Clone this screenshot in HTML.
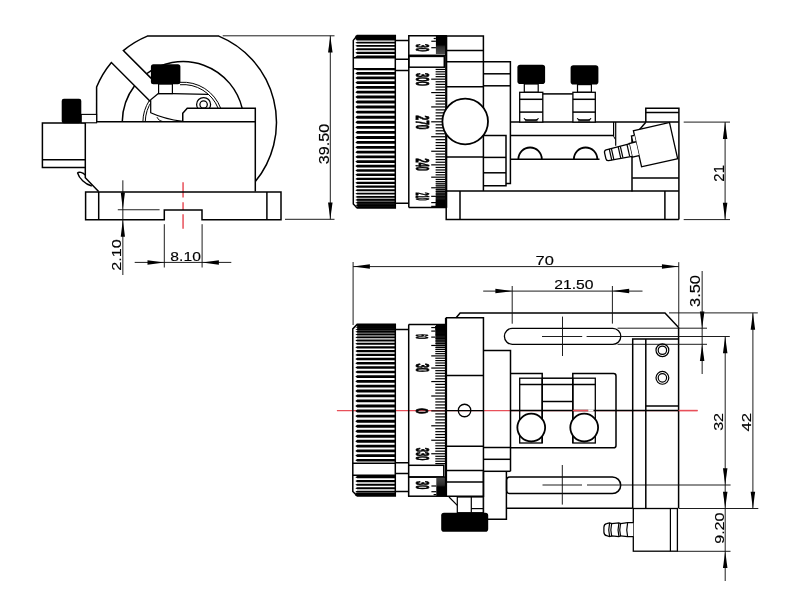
<!DOCTYPE html>
<html><head><meta charset="utf-8"><style>
html,body{margin:0;padding:0;background:#fff;}
svg{display:block;will-change:transform;}
text{font-family:"Liberation Sans",sans-serif;fill:#000;}
</style></head><body>
<svg width="800" height="605" viewBox="0 0 800 605">
<rect width="800" height="605" fill="#fff"/>
<path d="M96.6,122 L96.6,87.07 A93.4,93.4 0 0 1 111.4,62.5 L150.6,101.7" stroke="#000" stroke-width="1.5" fill="none" />
<path d="M151.2,78.4 L123.37,50.57 A93.4,93.4 0 0 1 147.34,36.1 L218.78,36.1 A93.4,93.4 0 0 1 255.3,181.6" stroke="#000" stroke-width="1.5" fill="none" />
<path d="M122.26,121.8 A60.8,60.8 0 0 1 134.59,85.69" stroke="#000" stroke-width="1.5" fill="none" />
<path d="M146.57,73.77 A60.8,60.8 0 0 1 242.2,108.3" stroke="#000" stroke-width="1.5" fill="none" />
<path d="M145.26,121.8 A37.8,37.8 0 0 1 152.25,100.5" stroke="#000" stroke-width="1.0" fill="none" />
<path d="M180,84.72 A37.8,37.8 0 0 1 218.13,108.3" stroke="#000" stroke-width="1.0" fill="none" />
<path d="M142.86,121.8 A40.2,40.2 0 0 1 149.35,100.5" stroke="#000" stroke-width="1.0" fill="none" />
<path d="M180,82.32 A40.2,40.2 0 0 1 220.71,108.3" stroke="#000" stroke-width="1.0" fill="none" />
<path d="M158.3,93.6 L150.7,99.8 L150.7,112.7 C160,117 171,119.8 182.75,121.3" stroke="#000" stroke-width="1.25" fill="#fff" />
<path d="M158.3,93.6 L172.4,93.6 L208,94.4" stroke="#000" stroke-width="1.25" fill="none" />
<path d="M157,117.2 C158,119.5 160,121 163,121.6" stroke="#000" stroke-width="1.0" fill="none" />
<circle cx="203.6" cy="104.5" r="7" stroke="#000" stroke-width="1.25" fill="#fff"/>
<circle cx="203.6" cy="104.5" r="3.7" stroke="#000" stroke-width="1.25" fill="none"/>
<path d="M182.75,121.5 L182.75,113.25 L187.25,108.3 L255.3,108.3 L255.3,191.5" stroke="#000" stroke-width="1.5" fill="#fff" />
<rect x="158.6" y="84" width="13.8" height="9.6" rx="0" stroke="#000" stroke-width="1.2" fill="#fff"/>
<rect x="150.9" y="64.2" width="29.5" height="20.1" rx="2.5" fill="#000"/>
<line x1="85.3" y1="121.8" x2="255.3" y2="121.8" stroke="#000" stroke-width="1.5" />
<path d="M85.3,121.8 L85.3,177.7 L98.6,191.4" stroke="#000" stroke-width="1.5" fill="none" />
<path d="M85.2,175.2 C83,172 78.5,171.6 77.6,173 C79,178 85,184.5 91.8,186" stroke="#000" stroke-width="1.4" fill="none" />
<path d="M85.3,123 L42.4,123 L42.4,167.4 L85.3,167.4" stroke="#000" stroke-width="1.5" fill="none" />
<line x1="42.4" y1="159.8" x2="85.3" y2="159.8" stroke="#000" stroke-width="1.5" />
<rect x="81.2" y="114.4" width="15.4" height="8.4" rx="0" stroke="#000" stroke-width="1.1" fill="#fff"/>
<rect x="61.7" y="98.7" width="19.6" height="24.5" rx="2.2" fill="#000"/>
<line x1="183.06" y1="182.2" x2="183.06" y2="197.4" stroke="#e8505a" stroke-width="1.5" />
<line x1="183.06" y1="202.3" x2="183.06" y2="209.9" stroke="#e8505a" stroke-width="1.5" />
<line x1="183.06" y1="214.3" x2="183.06" y2="228.8" stroke="#e8505a" stroke-width="1.5" />
<path d="M85.6,191.9 L281,191.9 L281,219.7 L202,219.7 L202,209.9 L164.3,209.9 L164.3,219.7 L85.6,219.7 Z" stroke="#000" stroke-width="1.5" fill="none" />
<line x1="98.7" y1="191.9" x2="98.7" y2="219.7" stroke="#000" stroke-width="1.5" />
<line x1="266.9" y1="191.9" x2="266.9" y2="219.7" stroke="#000" stroke-width="1.5" />
<line x1="222.7" y1="35.8" x2="334.5" y2="35.8" stroke="#111" stroke-width="0.95" />
<line x1="285" y1="219.3" x2="334.5" y2="219.3" stroke="#111" stroke-width="0.95" />
<line x1="330.3" y1="35.7" x2="330.3" y2="219.3" stroke="#111" stroke-width="0.95" />
<path d="M330.3,35.7 L332.55,52.5 L328.05,52.5 Z" fill="#000"/>
<path d="M330.3,219.3 L328.05,202.5 L332.55,202.5 Z" fill="#000"/>
<text x="0" y="0" font-size="14.18" text-anchor="middle" stroke="#000" stroke-width="0.15" textLength="40.48" lengthAdjust="spacingAndGlyphs" transform="translate(328.55 144) rotate(-90)">39.50</text>
<line x1="122.85" y1="180.3" x2="122.85" y2="275" stroke="#111" stroke-width="0.95" />
<line x1="117.8" y1="209.75" x2="159.6" y2="209.75" stroke="#111" stroke-width="0.95" />
<path d="M122.85,209.6 L120.75,192.6 L124.95,192.6 Z" fill="#000"/>
<path d="M122.85,219.8 L124.95,236.8 L120.75,236.8 Z" fill="#000"/>
<text x="0" y="0" font-size="13.27" text-anchor="middle" stroke="#000" stroke-width="0.15" textLength="31.54" lengthAdjust="spacingAndGlyphs" transform="translate(121.1 254.93) rotate(-90)">2.10</text>
<line x1="164.3" y1="224.2" x2="164.3" y2="267.5" stroke="#111" stroke-width="0.95" />
<line x1="202.1" y1="224.2" x2="202.1" y2="267.5" stroke="#111" stroke-width="0.95" />
<line x1="134.7" y1="262.4" x2="231.3" y2="262.4" stroke="#111" stroke-width="0.95" />
<path d="M164.3,262.4 L147.5,264.65 L147.5,260.15 Z" fill="#000"/>
<path d="M202.1,262.4 L218.9,260.15 L218.9,264.65 Z" fill="#000"/>
<text x="185.62" y="260.75" font-size="13.62" text-anchor="middle" stroke="#000" stroke-width="0.15" textLength="30.48" lengthAdjust="spacingAndGlyphs">8.10</text>
<path d="M357.2,36.12 L395.3,36.12 L395.3,37.67 L357.2,37.67 L355.3,36.89 Z M357.2,38.83 L395.3,38.83 L395.3,40.5 L357.2,40.5 L355.3,39.67 Z M357.2,41.76 L395.3,41.76 L395.3,43.56 L357.2,43.56 L355.3,42.66 Z M357.2,44.9 L395.3,44.9 L395.3,46.82 L357.2,46.82 L355.3,45.86 Z M357.2,48.25 L395.3,48.25 L395.3,50.28 L357.2,50.28 L355.3,49.27 Z M357.2,51.8 L395.3,51.8 L395.3,53.94 L357.2,53.94 L355.3,52.87 Z M357.2,55.53 L395.3,55.53 L395.3,57.77 L357.2,57.77 L355.3,56.65 Z" fill="#000"/>
<path d="M357.2,68.8 L395.3,68.8 L395.3,70.24 L357.2,70.24 L355.3,69.52 Z M357.2,72.09 L395.3,72.09 L395.3,74.68 L357.2,74.68 L355.3,73.38 Z M357.2,76.58 L395.3,76.58 L395.3,79.25 L357.2,79.25 L355.3,77.92 Z M357.2,81.2 L395.3,81.2 L395.3,83.92 L357.2,83.92 L355.3,82.56 Z M357.2,85.92 L395.3,85.92 L395.3,88.7 L357.2,88.7 L355.3,87.31 Z M357.2,90.73 L395.3,90.73 L395.3,93.56 L357.2,93.56 L355.3,92.14 Z M357.2,95.62 L395.3,95.62 L395.3,98.49 L357.2,98.49 L355.3,97.05 Z M357.2,100.58 L395.3,100.58 L395.3,103.48 L357.2,103.48 L355.3,102.03 Z M357.2,105.59 L395.3,105.59 L395.3,108.51 L357.2,108.51 L355.3,107.05 Z M357.2,110.64 L395.3,110.64 L395.3,113.58 L357.2,113.58 L355.3,112.11 Z M357.2,115.71 L395.3,115.71 L395.3,118.66 L357.2,118.66 L355.3,117.19 Z M357.2,120.8 L395.3,120.8 L395.3,123.75 L357.2,123.75 L355.3,122.27 Z M357.2,125.88 L395.3,125.88 L395.3,128.82 L357.2,128.82 L355.3,127.35 Z M357.2,130.94 L395.3,130.94 L395.3,133.87 L357.2,133.87 L355.3,132.41 Z M357.2,135.98 L395.3,135.98 L395.3,138.88 L357.2,138.88 L355.3,137.43 Z M357.2,140.97 L395.3,140.97 L395.3,143.84 L357.2,143.84 L355.3,142.41 Z M357.2,145.91 L395.3,145.91 L395.3,148.74 L357.2,148.74 L355.3,147.32 Z M357.2,150.77 L395.3,150.77 L395.3,153.55 L357.2,153.55 L355.3,152.16 Z M357.2,155.55 L395.3,155.55 L395.3,158.28 L357.2,158.28 L355.3,156.91 Z M357.2,160.23 L395.3,160.23 L395.3,162.89 L357.2,162.89 L355.3,161.56 Z M357.2,164.8 L395.3,164.8 L395.3,167.39 L357.2,167.39 L355.3,166.1 Z M357.2,169.25 L395.3,169.25 L395.3,171.77 L357.2,171.77 L355.3,170.51 Z M357.2,173.56 L395.3,173.56 L395.3,175.99 L357.2,175.99 L355.3,174.78 Z M357.2,177.73 L395.3,177.73 L395.3,180.07 L357.2,180.07 L355.3,178.9 Z M357.2,181.73 L395.3,181.73 L395.3,183.98 L357.2,183.98 L355.3,182.86 Z M357.2,185.57 L395.3,185.57 L395.3,187.72 L357.2,187.72 L355.3,186.65 Z M357.2,189.23 L395.3,189.23 L395.3,191.27 L357.2,191.27 L355.3,190.25 Z M357.2,192.7 L395.3,192.7 L395.3,194.62 L357.2,194.62 L355.3,193.66 Z M357.2,195.97 L395.3,195.97 L395.3,197.78 L357.2,197.78 L355.3,196.88 Z M357.2,199.04 L395.3,199.04 L395.3,200.72 L357.2,200.72 L355.3,199.88 Z M357.2,201.88 L395.3,201.88 L395.3,203.43 L357.2,203.43 L355.3,202.66 Z M357.2,204.51 L395.3,204.51 L395.3,205.92 L357.2,205.92 L355.3,205.22 Z M357.2,206.9 L395.3,206.9 L395.3,208 L357.2,208 L355.3,207.45 Z" fill="#000"/>
<rect x="355.5" y="35.6" width="39.8" height="3.4" rx="0" fill="#000"/>
<defs><linearGradient id="g5" x1="0" y1="1" x2="0" y2="0"><stop offset="0" stop-color="#000" stop-opacity="1"/><stop offset="0.3" stop-color="#000" stop-opacity="0.9"/><stop offset="1" stop-color="#000" stop-opacity="0"/></linearGradient></defs>
<rect x="357.2" y="195" width="38.1" height="13" fill="url(#g5)"/>
<path d="M357.2,35.6 L395.3,35.6 L395.3,208.0 L357.2,208.0 L353.3,203.9 L353.3,40.4 Z" stroke="#000" stroke-width="1.5" fill="none" />
<line x1="353.3" y1="57.8" x2="395.3" y2="57.8" stroke="#000" stroke-width="1.5" />
<line x1="353.3" y1="68.8" x2="395.3" y2="68.8" stroke="#000" stroke-width="1.5" />
<path d="M395.3,40.5 L408.8,40.5 M395.3,59.2 L408.8,59.2 M395.3,70.5 L408.8,70.5 M395.3,203.2 L408.8,203.2" stroke="#000" stroke-width="1.5" fill="none" />
<rect x="408.8" y="35.75" width="37.4" height="19.55" rx="0" stroke="#000" stroke-width="1.5" fill="#fff"/>
<defs><linearGradient id="g1" x1="0" y1="0" x2="0" y2="1"><stop offset="0" stop-color="#000"/><stop offset="0.5" stop-color="#000"/><stop offset="0.6" stop-color="#2a2a2a"/><stop offset="1" stop-color="#4a4a4a"/></linearGradient><linearGradient id="g2" x1="0" y1="0" x2="0" y2="1"><stop offset="0" stop-color="#4a4a4a"/><stop offset="0.4" stop-color="#2a2a2a"/><stop offset="0.5" stop-color="#000"/><stop offset="1" stop-color="#000"/></linearGradient></defs>
<rect x="435.9" y="35.75" width="10.3" height="18.3" fill="url(#g1)"/>
<line x1="433.7" y1="38.5" x2="435.9" y2="38.5" stroke="#000" stroke-width="1.2" />
<line x1="431.3" y1="41.25" x2="435.9" y2="41.25" stroke="#000" stroke-width="1.2" />
<line x1="431.3" y1="47.7" x2="435.9" y2="47.7" stroke="#000" stroke-width="1.2" />
<rect x="408.8" y="56.4" width="35.5" height="10.8" rx="0" stroke="#000" stroke-width="1.5" fill="#fff"/>
<line x1="408.8" y1="55.3" x2="408.8" y2="207.5" stroke="#000" stroke-width="1.5" />
<line x1="408.8" y1="207.5" x2="446.2" y2="207.5" stroke="#000" stroke-width="1.5" />
<line x1="446.2" y1="35.75" x2="446.2" y2="207.8" stroke="#000" stroke-width="2.2" />
<line x1="435.6" y1="69.44" x2="445.3" y2="69.44" stroke="#000" stroke-width="1.2" />
<line x1="435.6" y1="71.78" x2="445.3" y2="71.78" stroke="#000" stroke-width="1.2" />
<line x1="435.6" y1="74.18" x2="445.3" y2="74.18" stroke="#000" stroke-width="1.2" />
<line x1="435.6" y1="76.65" x2="445.3" y2="76.65" stroke="#000" stroke-width="1.2" />
<line x1="431.2" y1="79.17" x2="445.3" y2="79.17" stroke="#000" stroke-width="1.2" />
<line x1="435.6" y1="81.76" x2="445.3" y2="81.76" stroke="#000" stroke-width="1.2" />
<line x1="435.6" y1="84.39" x2="445.3" y2="84.39" stroke="#000" stroke-width="1.2" />
<line x1="435.6" y1="87.07" x2="445.3" y2="87.07" stroke="#000" stroke-width="1.2" />
<line x1="435.6" y1="89.8" x2="445.3" y2="89.8" stroke="#000" stroke-width="1.2" />
<line x1="431.2" y1="92.57" x2="445.3" y2="92.57" stroke="#000" stroke-width="1.2" />
<line x1="435.6" y1="95.38" x2="445.3" y2="95.38" stroke="#000" stroke-width="1.2" />
<line x1="435.6" y1="98.22" x2="445.3" y2="98.22" stroke="#000" stroke-width="1.2" />
<line x1="435.6" y1="101.1" x2="445.3" y2="101.1" stroke="#000" stroke-width="1.2" />
<line x1="435.6" y1="104.01" x2="445.3" y2="104.01" stroke="#000" stroke-width="1.2" />
<line x1="431.2" y1="106.93" x2="445.3" y2="106.93" stroke="#000" stroke-width="1.2" />
<line x1="435.6" y1="109.88" x2="445.3" y2="109.88" stroke="#000" stroke-width="1.2" />
<line x1="435.6" y1="112.85" x2="445.3" y2="112.85" stroke="#000" stroke-width="1.2" />
<line x1="435.6" y1="115.83" x2="445.3" y2="115.83" stroke="#000" stroke-width="1.2" />
<line x1="435.6" y1="118.82" x2="445.3" y2="118.82" stroke="#000" stroke-width="1.2" />
<line x1="431.2" y1="121.81" x2="445.3" y2="121.81" stroke="#000" stroke-width="1.2" />
<line x1="435.6" y1="124.81" x2="445.3" y2="124.81" stroke="#000" stroke-width="1.2" />
<line x1="435.6" y1="127.81" x2="445.3" y2="127.81" stroke="#000" stroke-width="1.2" />
<line x1="435.6" y1="130.79" x2="445.3" y2="130.79" stroke="#000" stroke-width="1.2" />
<line x1="435.6" y1="133.77" x2="445.3" y2="133.77" stroke="#000" stroke-width="1.2" />
<line x1="431.2" y1="136.74" x2="445.3" y2="136.74" stroke="#000" stroke-width="1.2" />
<line x1="435.6" y1="139.69" x2="445.3" y2="139.69" stroke="#000" stroke-width="1.2" />
<line x1="435.6" y1="142.62" x2="445.3" y2="142.62" stroke="#000" stroke-width="1.2" />
<line x1="435.6" y1="145.52" x2="445.3" y2="145.52" stroke="#000" stroke-width="1.2" />
<line x1="435.6" y1="148.4" x2="445.3" y2="148.4" stroke="#000" stroke-width="1.2" />
<line x1="431.2" y1="151.24" x2="445.3" y2="151.24" stroke="#000" stroke-width="1.2" />
<line x1="435.6" y1="154.05" x2="445.3" y2="154.05" stroke="#000" stroke-width="1.2" />
<line x1="435.6" y1="156.82" x2="445.3" y2="156.82" stroke="#000" stroke-width="1.2" />
<line x1="435.6" y1="159.55" x2="445.3" y2="159.55" stroke="#000" stroke-width="1.2" />
<line x1="435.6" y1="162.23" x2="445.3" y2="162.23" stroke="#000" stroke-width="1.2" />
<line x1="431.2" y1="164.86" x2="445.3" y2="164.86" stroke="#000" stroke-width="1.2" />
<line x1="435.6" y1="167.44" x2="445.3" y2="167.44" stroke="#000" stroke-width="1.2" />
<line x1="435.6" y1="169.96" x2="445.3" y2="169.96" stroke="#000" stroke-width="1.2" />
<line x1="435.6" y1="172.43" x2="445.3" y2="172.43" stroke="#000" stroke-width="1.2" />
<line x1="435.6" y1="174.83" x2="445.3" y2="174.83" stroke="#000" stroke-width="1.2" />
<line x1="431.2" y1="177.17" x2="445.3" y2="177.17" stroke="#000" stroke-width="1.2" />
<line x1="435.6" y1="179.43" x2="445.3" y2="179.43" stroke="#000" stroke-width="1.2" />
<line x1="435.6" y1="181.63" x2="445.3" y2="181.63" stroke="#000" stroke-width="1.2" />
<line x1="435.6" y1="183.76" x2="445.3" y2="183.76" stroke="#000" stroke-width="1.2" />
<line x1="435.6" y1="185.8" x2="445.3" y2="185.8" stroke="#000" stroke-width="1.2" />
<line x1="431.2" y1="187.77" x2="445.3" y2="187.77" stroke="#000" stroke-width="1.2" />
<line x1="435.6" y1="189.66" x2="445.3" y2="189.66" stroke="#000" stroke-width="1.2" />
<line x1="435.6" y1="191.46" x2="445.3" y2="191.46" stroke="#000" stroke-width="1.2" />
<line x1="435.6" y1="193.18" x2="445.3" y2="193.18" stroke="#000" stroke-width="1.2" />
<line x1="435.6" y1="194.81" x2="445.3" y2="194.81" stroke="#000" stroke-width="1.2" />
<line x1="431.2" y1="196.34" x2="445.3" y2="196.34" stroke="#000" stroke-width="1.2" />
<line x1="435.6" y1="197.79" x2="445.3" y2="197.79" stroke="#000" stroke-width="1.2" />
<line x1="435.6" y1="199.14" x2="445.3" y2="199.14" stroke="#000" stroke-width="1.2" />
<line x1="435.6" y1="200.39" x2="445.3" y2="200.39" stroke="#000" stroke-width="1.2" />
<line x1="435.6" y1="201.55" x2="445.3" y2="201.55" stroke="#000" stroke-width="1.2" />
<line x1="431.2" y1="202.61" x2="445.3" y2="202.61" stroke="#000" stroke-width="1.2" />
<line x1="435.6" y1="203.57" x2="445.3" y2="203.57" stroke="#000" stroke-width="1.2" />
<line x1="435.6" y1="204.42" x2="445.3" y2="204.42" stroke="#000" stroke-width="1.2" />
<line x1="435.6" y1="205.18" x2="445.3" y2="205.18" stroke="#000" stroke-width="1.2" />
<line x1="435.6" y1="205.83" x2="445.3" y2="205.83" stroke="#000" stroke-width="1.2" />
<line x1="431.2" y1="206.37" x2="445.3" y2="206.37" stroke="#000" stroke-width="1.2" />
<line x1="435.6" y1="206.81" x2="445.3" y2="206.81" stroke="#000" stroke-width="1.2" />
<defs><linearGradient id="g6" x1="0" y1="0" x2="0" y2="1"><stop offset="0" stop-color="#000" stop-opacity="0"/><stop offset="0.6" stop-color="#000" stop-opacity="0.6"/><stop offset="1" stop-color="#000" stop-opacity="1"/></linearGradient></defs>
<rect x="436" y="178" width="9.5" height="29.5" fill="url(#g6)"/>
<text x="0" y="0" font-size="18.44" font-weight="bold" stroke="#000" stroke-width="0.9" text-anchor="middle" textLength="12.8" lengthAdjust="spacingAndGlyphs" transform="translate(416.2 79.4) rotate(90)">300</text>
<text x="0" y="0" font-size="18.44" font-weight="bold" stroke="#000" stroke-width="0.9" text-anchor="middle" textLength="14" lengthAdjust="spacingAndGlyphs" transform="translate(416.2 122.5) rotate(90)">270</text>
<text x="0" y="0" font-size="18.44" font-weight="bold" stroke="#000" stroke-width="0.9" text-anchor="middle" textLength="12.4" lengthAdjust="spacingAndGlyphs" transform="translate(416.2 164.8) rotate(90)">240</text>
<text x="0" y="0" font-size="18.44" font-weight="bold" stroke="#000" stroke-width="0.9" text-anchor="middle" textLength="8" lengthAdjust="spacingAndGlyphs" transform="translate(416.2 196.5) rotate(90)">210</text>
<text x="0" y="0" font-size="17.88" font-weight="bold" stroke="#000" stroke-width="0.9" text-anchor="middle" textLength="7.6" lengthAdjust="spacingAndGlyphs" transform="translate(416 47.8) rotate(90)">30</text>
<path d="M446.2,36 L483.4,36 L483.4,191" stroke="#000" stroke-width="1.5" fill="none" />
<line x1="446.2" y1="50.6" x2="483.4" y2="50.6" stroke="#000" stroke-width="1.5" />
<line x1="446.2" y1="61.8" x2="483.4" y2="61.8" stroke="#000" stroke-width="1.5" />
<line x1="446.2" y1="86.8" x2="483.4" y2="86.8" stroke="#000" stroke-width="1.5" />
<line x1="446.2" y1="156.9" x2="483.4" y2="156.9" stroke="#000" stroke-width="1.5" />
<circle cx="465.2" cy="121.5" r="22.8" stroke="#000" stroke-width="1.8" fill="#fff"/>
<path d="M483.4,61.8 L510.4,61.8 L510.4,183.4 L506,183.4" stroke="#000" stroke-width="1.5" fill="none" />
<line x1="483.4" y1="73.8" x2="510.4" y2="73.8" stroke="#000" stroke-width="1.5" />
<line x1="483.4" y1="85.8" x2="510.4" y2="85.8" stroke="#000" stroke-width="1.5" />
<path d="M483.4,135.6 L506,135.6 L506,185.8 L483.4,185.8" stroke="#000" stroke-width="1.5" fill="none" />
<line x1="483.4" y1="157.4" x2="506" y2="157.4" stroke="#000" stroke-width="1.5" />
<line x1="483.4" y1="172.8" x2="506" y2="172.8" stroke="#000" stroke-width="1.5" />
<line x1="510.4" y1="122.1" x2="678.8" y2="122.1" stroke="#000" stroke-width="1.5" />
<line x1="510.4" y1="135.4" x2="613.6" y2="135.4" stroke="#000" stroke-width="1.5" />
<line x1="613.6" y1="122" x2="613.6" y2="136.2" stroke="#000" stroke-width="1.2" />
<line x1="613.6" y1="136.2" x2="615.4" y2="139.5" stroke="#000" stroke-width="1.0" />
<line x1="615.7" y1="122" x2="615.7" y2="145.8" stroke="#000" stroke-width="1.2" />
<line x1="510.4" y1="159.2" x2="599.5" y2="159.2" stroke="#000" stroke-width="1.5" />
<path d="M518.4,159.2 A11.7,11.7 0 0 1 541.8,159.2" stroke="#000" stroke-width="1.8" fill="none" />
<path d="M573.9,159.2 A11.7,11.7 0 0 1 597.3,159.2" stroke="#000" stroke-width="1.8" fill="none" />
<path d="M542.8,93.9 L572.9,93.9" stroke="#000" stroke-width="1.5" fill="none" />
<rect x="517.4" y="64.7" width="27.7" height="19.3" rx="2.8" fill="#000"/>
<rect x="524.3" y="84" width="13.9" height="8.3" rx="0" stroke="#000" stroke-width="1.2" fill="#fff"/>
<rect x="519.7" y="92.3" width="23.1" height="29.8" rx="0" stroke="#000" stroke-width="1.3" fill="#fff"/>
<line x1="519.7" y1="99.3" x2="542.8" y2="99.3" stroke="#000" stroke-width="1.5" />
<line x1="519.7" y1="112.1" x2="542.8" y2="112.1" stroke="#000" stroke-width="1.5" />
<path d="M524,118.2 Q524.9,120.0 527.2,119.9 L535.3,119.9 Q537.6,120.0 538.5,118.2" stroke="#000" stroke-width="1.1" fill="none" />
<path d="M525.2,120.2 L537.3,120.2 L537.8,121.6 L524.7,121.6 Z" stroke="#000" stroke-width="0" fill="#000" />
<rect x="570.6" y="65.3" width="27.8" height="19.3" rx="2.8" fill="#000"/>
<rect x="577.5" y="84.6" width="13.9" height="7.7" rx="0" stroke="#000" stroke-width="1.2" fill="#fff"/>
<rect x="572.9" y="92.3" width="22.4" height="29.8" rx="0" stroke="#000" stroke-width="1.3" fill="#fff"/>
<line x1="572.9" y1="99.3" x2="595.3" y2="99.3" stroke="#000" stroke-width="1.5" />
<line x1="572.9" y1="112.1" x2="595.3" y2="112.1" stroke="#000" stroke-width="1.5" />
<path d="M577.2,118.2 Q578.1,120.0 580.4,119.9 L587.8,119.9 Q590.1,120.0 591,118.2" stroke="#000" stroke-width="1.1" fill="none" />
<path d="M578.4,120.2 L589.8,120.2 L590.3,121.6 L577.9,121.6 Z" stroke="#000" stroke-width="0" fill="#000" />
<path d="M645.8,122 L645.8,108.3 L678.9,108.3 L678.9,219.6" stroke="#000" stroke-width="1.5" fill="none" />
<line x1="645.8" y1="112.4" x2="678.9" y2="112.4" stroke="#000" stroke-width="1.5" />
<path d="M645.8,122.3 L639.6,129.5" stroke="#000" stroke-width="1.5" fill="none" />
<line x1="632" y1="136" x2="632" y2="191.4" stroke="#000" stroke-width="1.5" />
<line x1="632.2" y1="178" x2="678.9" y2="178" stroke="#000" stroke-width="1.5" />
<g transform="translate(633.4 130.75) rotate(-12.75)">
<path d="M0,0 L37,0 L37,37 L0,37 Z" stroke="#000" stroke-width="1.3" fill="#fff" />
<path d="M0,4.7 L-3.1,4.7 L-3.1,11.5 L0,11.5" stroke="#000" stroke-width="1.3" fill="#fff" />
<path d="M0,11.5 L-7,11.5 L-7,25.5 L0,25.5" stroke="#000" stroke-width="1.3" fill="#fff" />
<path d="M-7,11.9 L-30.8,12.6 Q-33,12.8 -33,15.2 L-33,21.2 Q-33,23.6 -30.8,23.7 L-7,24.6" stroke="#000" stroke-width="1.3" fill="#fff" />
<line x1="-27.6" y1="12.4" x2="-27.6" y2="24" stroke="#000" stroke-width="1.2" />
<line x1="-25.4" y1="12.4" x2="-25.4" y2="24" stroke="#000" stroke-width="1.2" />
<line x1="-18.4" y1="12.4" x2="-18.4" y2="24" stroke="#000" stroke-width="1.2" />
<line x1="-16.2" y1="12.4" x2="-16.2" y2="24" stroke="#000" stroke-width="1.2" />
<line x1="-9.3" y1="12.4" x2="-9.3" y2="24" stroke="#000" stroke-width="1.2" />
</g>
<path d="M446.2,191 L678.9,191 M446.2,191 L446.2,219.5 L678.9,219.5" stroke="#000" stroke-width="1.5" fill="none" />
<line x1="460" y1="191" x2="460" y2="219.5" stroke="#000" stroke-width="1.5" />
<line x1="664.9" y1="191" x2="664.9" y2="219.5" stroke="#000" stroke-width="1.5" />
<line x1="683.7" y1="122.1" x2="730" y2="122.1" stroke="#111" stroke-width="0.95" />
<line x1="683.7" y1="219.6" x2="730" y2="219.6" stroke="#111" stroke-width="0.95" />
<line x1="725.1" y1="122.1" x2="725.1" y2="219.6" stroke="#111" stroke-width="0.95" />
<path d="M725.1,122.1 L727.35,138.9 L722.85,138.9 Z" fill="#000"/>
<path d="M725.1,219.6 L722.85,202.8 L727.35,202.8 Z" fill="#000"/>
<text x="0" y="0" font-size="14.11" text-anchor="middle" stroke="#000" stroke-width="0.15" textLength="16.57" lengthAdjust="spacingAndGlyphs" transform="translate(723.8 173.35) rotate(-90)">21</text>
<line x1="336.9" y1="410.6" x2="697.6" y2="410.6" stroke="#e8505a" stroke-width="1.4" />
<path d="M357.2,324.69 L395.3,324.69 L395.3,325.76 L357.2,325.76 L355.3,325.22 Z M357.2,326.58 L395.3,326.58 L395.3,327.79 L357.2,327.79 L355.3,327.19 Z M357.2,328.72 L395.3,328.72 L395.3,330.07 L357.2,330.07 L355.3,329.4 Z M357.2,331.1 L395.3,331.1 L395.3,332.58 L357.2,332.58 L355.3,331.84 Z M357.2,333.7 L395.3,333.7 L395.3,335.32 L357.2,335.32 L355.3,334.51 Z M357.2,336.54 L395.3,336.54 L395.3,338.28 L357.2,338.28 L355.3,337.41 Z M357.2,339.58 L395.3,339.58 L395.3,341.45 L357.2,341.45 L355.3,340.52 Z M357.2,342.84 L395.3,342.84 L395.3,344.82 L357.2,344.82 L355.3,343.83 Z M357.2,346.3 L395.3,346.3 L395.3,348.39 L357.2,348.39 L355.3,347.34 Z M357.2,349.94 L395.3,349.94 L395.3,352.14 L357.2,352.14 L355.3,351.04 Z M357.2,353.77 L395.3,353.77 L395.3,356.07 L357.2,356.07 L355.3,354.92 Z M357.2,357.77 L395.3,357.77 L395.3,360.16 L357.2,360.16 L355.3,358.96 Z M357.2,361.92 L395.3,361.92 L395.3,364.4 L357.2,364.4 L355.3,363.16 Z M357.2,366.23 L395.3,366.23 L395.3,368.78 L357.2,368.78 L355.3,367.5 Z M357.2,370.66 L395.3,370.66 L395.3,373.3 L357.2,373.3 L355.3,371.98 Z M357.2,375.23 L395.3,375.23 L395.3,377.92 L357.2,377.92 L355.3,376.58 Z M357.2,379.9 L395.3,379.9 L395.3,382.66 L357.2,382.66 L355.3,381.28 Z M357.2,384.67 L395.3,384.67 L395.3,387.48 L357.2,387.48 L355.3,386.08 Z M357.2,389.53 L395.3,389.53 L395.3,392.38 L357.2,392.38 L355.3,390.95 Z M357.2,394.46 L395.3,394.46 L395.3,397.35 L357.2,397.35 L355.3,395.9 Z M357.2,399.45 L395.3,399.45 L395.3,402.36 L357.2,402.36 L355.3,400.9 Z M357.2,404.48 L395.3,404.48 L395.3,407.41 L357.2,407.41 L355.3,405.95 Z M357.2,409.54 L395.3,409.54 L395.3,412.49 L357.2,412.49 L355.3,411.02 Z M357.2,414.63 L395.3,414.63 L395.3,417.58 L357.2,417.58 L355.3,416.1 Z M357.2,419.71 L395.3,419.71 L395.3,422.66 L357.2,422.66 L355.3,421.18 Z M357.2,424.79 L395.3,424.79 L395.3,427.72 L357.2,427.72 L355.3,426.25 Z M357.2,429.84 L395.3,429.84 L395.3,432.75 L357.2,432.75 L355.3,431.29 Z M357.2,434.85 L395.3,434.85 L395.3,437.74 L357.2,437.74 L355.3,436.29 Z M357.2,439.81 L395.3,439.81 L395.3,442.66 L357.2,442.66 L355.3,441.24 Z M357.2,444.71 L395.3,444.71 L395.3,447.51 L357.2,447.51 L355.3,446.11 Z M357.2,449.53 L395.3,449.53 L395.3,452.28 L357.2,452.28 L355.3,450.9 Z M357.2,454.25 L395.3,454.25 L395.3,456.95 L357.2,456.95 L355.3,455.6 Z M357.2,458.88 L395.3,458.88 L395.3,461.5 L357.2,461.5 L355.3,460.19 Z" fill="#000"/>
<path d="M357.2,476.07 L395.3,476.07 L395.3,478.36 L357.2,478.36 L355.3,477.22 Z M357.2,479.99 L395.3,479.99 L395.3,482.18 L357.2,482.18 L355.3,481.08 Z M357.2,483.73 L395.3,483.73 L395.3,485.81 L357.2,485.81 L355.3,484.77 Z M357.2,487.28 L395.3,487.28 L395.3,489.26 L357.2,489.26 L355.3,488.27 Z M357.2,490.65 L395.3,490.65 L395.3,492.5 L357.2,492.5 L355.3,491.57 Z M357.2,493.8 L395.3,493.8 L395.3,495.54 L357.2,495.54 L355.3,494.67 Z" fill="#000"/>
<defs><linearGradient id="g4" x1="0" y1="0" x2="0" y2="1"><stop offset="0" stop-color="#000" stop-opacity="1"/><stop offset="0.3" stop-color="#000" stop-opacity="0.95"/><stop offset="1" stop-color="#000" stop-opacity="0"/></linearGradient></defs>
<rect x="357.2" y="324.3" width="38.1" height="15" fill="url(#g4)"/>
<rect x="355.5" y="492.6" width="39.8" height="3.4" rx="0" fill="#000"/>
<path d="M357.2,324.3 L395.3,324.3 L395.3,496.0 L357.2,496.0 L352.8,491.4 L352.8,328.9 Z" stroke="#000" stroke-width="1.5" fill="none" />
<line x1="352.8" y1="463.3" x2="395.3" y2="463.3" stroke="#000" stroke-width="1.5" />
<line x1="352.8" y1="475.2" x2="395.3" y2="475.2" stroke="#000" stroke-width="1.5" />
<path d="M395.3,329.5 L408.7,329.5 M395.3,462.8 L408.7,462.8 M395.3,473.4 L408.7,473.4 M395.3,491.4 L408.7,491.4" stroke="#000" stroke-width="1.5" fill="none" />
<line x1="408.7" y1="324.4" x2="408.7" y2="496.2" stroke="#000" stroke-width="1.5" />
<line x1="408.7" y1="324.4" x2="446" y2="324.4" stroke="#000" stroke-width="1.5" />
<line x1="435.3" y1="326.65" x2="445" y2="326.65" stroke="#000" stroke-width="1.2" />
<line x1="435.3" y1="326.72" x2="445" y2="326.72" stroke="#000" stroke-width="1.2" />
<line x1="435.3" y1="326.9" x2="445" y2="326.9" stroke="#000" stroke-width="1.2" />
<line x1="435.3" y1="327.18" x2="445" y2="327.18" stroke="#000" stroke-width="1.2" />
<line x1="431.25" y1="327.57" x2="445" y2="327.57" stroke="#000" stroke-width="1.2" />
<line x1="435.3" y1="328.07" x2="445" y2="328.07" stroke="#000" stroke-width="1.2" />
<line x1="435.3" y1="328.66" x2="445" y2="328.66" stroke="#000" stroke-width="1.2" />
<line x1="435.3" y1="329.37" x2="445" y2="329.37" stroke="#000" stroke-width="1.2" />
<line x1="435.3" y1="330.17" x2="445" y2="330.17" stroke="#000" stroke-width="1.2" />
<line x1="431.25" y1="331.08" x2="445" y2="331.08" stroke="#000" stroke-width="1.2" />
<line x1="435.3" y1="332.09" x2="445" y2="332.09" stroke="#000" stroke-width="1.2" />
<line x1="435.3" y1="333.2" x2="445" y2="333.2" stroke="#000" stroke-width="1.2" />
<line x1="435.3" y1="334.41" x2="445" y2="334.41" stroke="#000" stroke-width="1.2" />
<line x1="435.3" y1="335.71" x2="445" y2="335.71" stroke="#000" stroke-width="1.2" />
<line x1="431.25" y1="337.11" x2="445" y2="337.11" stroke="#000" stroke-width="1.2" />
<line x1="435.3" y1="338.61" x2="445" y2="338.61" stroke="#000" stroke-width="1.2" />
<line x1="435.3" y1="340.19" x2="445" y2="340.19" stroke="#000" stroke-width="1.2" />
<line x1="435.3" y1="341.86" x2="445" y2="341.86" stroke="#000" stroke-width="1.2" />
<line x1="435.3" y1="343.63" x2="445" y2="343.63" stroke="#000" stroke-width="1.2" />
<line x1="431.25" y1="345.47" x2="445" y2="345.47" stroke="#000" stroke-width="1.2" />
<line x1="435.3" y1="347.4" x2="445" y2="347.4" stroke="#000" stroke-width="1.2" />
<line x1="435.3" y1="349.41" x2="445" y2="349.41" stroke="#000" stroke-width="1.2" />
<line x1="435.3" y1="351.5" x2="445" y2="351.5" stroke="#000" stroke-width="1.2" />
<line x1="435.3" y1="353.66" x2="445" y2="353.66" stroke="#000" stroke-width="1.2" />
<line x1="431.25" y1="355.89" x2="445" y2="355.89" stroke="#000" stroke-width="1.2" />
<line x1="435.3" y1="358.2" x2="445" y2="358.2" stroke="#000" stroke-width="1.2" />
<line x1="435.3" y1="360.57" x2="445" y2="360.57" stroke="#000" stroke-width="1.2" />
<line x1="435.3" y1="363" x2="445" y2="363" stroke="#000" stroke-width="1.2" />
<line x1="435.3" y1="365.5" x2="445" y2="365.5" stroke="#000" stroke-width="1.2" />
<line x1="431.25" y1="368.05" x2="445" y2="368.05" stroke="#000" stroke-width="1.2" />
<line x1="435.3" y1="370.66" x2="445" y2="370.66" stroke="#000" stroke-width="1.2" />
<line x1="435.3" y1="373.32" x2="445" y2="373.32" stroke="#000" stroke-width="1.2" />
<line x1="435.3" y1="376.02" x2="445" y2="376.02" stroke="#000" stroke-width="1.2" />
<line x1="435.3" y1="378.77" x2="445" y2="378.77" stroke="#000" stroke-width="1.2" />
<line x1="431.25" y1="381.56" x2="445" y2="381.56" stroke="#000" stroke-width="1.2" />
<line x1="435.3" y1="384.39" x2="445" y2="384.39" stroke="#000" stroke-width="1.2" />
<line x1="435.3" y1="387.25" x2="445" y2="387.25" stroke="#000" stroke-width="1.2" />
<line x1="435.3" y1="390.14" x2="445" y2="390.14" stroke="#000" stroke-width="1.2" />
<line x1="435.3" y1="393.06" x2="445" y2="393.06" stroke="#000" stroke-width="1.2" />
<line x1="431.25" y1="396" x2="445" y2="396" stroke="#000" stroke-width="1.2" />
<line x1="435.3" y1="398.95" x2="445" y2="398.95" stroke="#000" stroke-width="1.2" />
<line x1="435.3" y1="401.93" x2="445" y2="401.93" stroke="#000" stroke-width="1.2" />
<line x1="435.3" y1="404.91" x2="445" y2="404.91" stroke="#000" stroke-width="1.2" />
<line x1="435.3" y1="407.9" x2="445" y2="407.9" stroke="#000" stroke-width="1.2" />
<line x1="431.25" y1="410.9" x2="445" y2="410.9" stroke="#000" stroke-width="1.2" />
<line x1="435.3" y1="413.9" x2="445" y2="413.9" stroke="#000" stroke-width="1.2" />
<line x1="435.3" y1="416.89" x2="445" y2="416.89" stroke="#000" stroke-width="1.2" />
<line x1="435.3" y1="419.87" x2="445" y2="419.87" stroke="#000" stroke-width="1.2" />
<line x1="435.3" y1="422.85" x2="445" y2="422.85" stroke="#000" stroke-width="1.2" />
<line x1="431.25" y1="425.8" x2="445" y2="425.8" stroke="#000" stroke-width="1.2" />
<line x1="435.3" y1="428.74" x2="445" y2="428.74" stroke="#000" stroke-width="1.2" />
<line x1="435.3" y1="431.66" x2="445" y2="431.66" stroke="#000" stroke-width="1.2" />
<line x1="435.3" y1="434.55" x2="445" y2="434.55" stroke="#000" stroke-width="1.2" />
<line x1="435.3" y1="437.41" x2="445" y2="437.41" stroke="#000" stroke-width="1.2" />
<line x1="431.25" y1="440.24" x2="445" y2="440.24" stroke="#000" stroke-width="1.2" />
<line x1="435.3" y1="443.03" x2="445" y2="443.03" stroke="#000" stroke-width="1.2" />
<line x1="435.3" y1="445.78" x2="445" y2="445.78" stroke="#000" stroke-width="1.2" />
<line x1="435.3" y1="448.48" x2="445" y2="448.48" stroke="#000" stroke-width="1.2" />
<line x1="435.3" y1="451.14" x2="445" y2="451.14" stroke="#000" stroke-width="1.2" />
<line x1="431.25" y1="453.75" x2="445" y2="453.75" stroke="#000" stroke-width="1.2" />
<line x1="435.3" y1="456.3" x2="445" y2="456.3" stroke="#000" stroke-width="1.2" />
<line x1="435.3" y1="458.8" x2="445" y2="458.8" stroke="#000" stroke-width="1.2" />
<line x1="435.3" y1="461.23" x2="445" y2="461.23" stroke="#000" stroke-width="1.2" />
<line x1="435.3" y1="463.6" x2="445" y2="463.6" stroke="#000" stroke-width="1.2" />
<defs><linearGradient id="g3" x1="0" y1="0" x2="0" y2="1"><stop offset="0" stop-color="#000" stop-opacity="1"/><stop offset="0.35" stop-color="#000" stop-opacity="0.9"/><stop offset="1" stop-color="#000" stop-opacity="0.25"/></linearGradient></defs>
<rect x="435.9" y="324.6" width="10" height="24" fill="url(#g3)"/>
<rect x="408.7" y="465.3" width="35.1" height="11.6" rx="0" stroke="#000" stroke-width="1.5" fill="#fff"/>
<rect x="408.7" y="477.2" width="37.3" height="19" rx="0" stroke="#000" stroke-width="1.5" fill="#fff"/>
<rect x="436.3" y="477.8" width="9.7" height="18.4" fill="url(#g2)"/>
<line x1="431.4" y1="486" x2="436.3" y2="486" stroke="#000" stroke-width="1.2" />
<line x1="431.4" y1="491.7" x2="436.3" y2="491.7" stroke="#000" stroke-width="1.2" />
<line x1="433.6" y1="494.6" x2="436.3" y2="494.6" stroke="#000" stroke-width="1.2" />
<line x1="446" y1="317.7" x2="446" y2="496.4" stroke="#000" stroke-width="2.2" />
<text x="0" y="0" font-size="16.76" font-weight="bold" fill="#000" stroke="#000" stroke-width="0.9" text-anchor="middle" textLength="4.6" lengthAdjust="spacingAndGlyphs" transform="translate(416 336.6) rotate(90)">60</text>
<text x="0" y="0" font-size="17.6" font-weight="bold" fill="#000" stroke="#000" stroke-width="0.9" text-anchor="middle" textLength="8.8" lengthAdjust="spacingAndGlyphs" transform="translate(416 367.8) rotate(90)">30</text>
<text x="0" y="0" font-size="16.76" font-weight="bold" fill="#000" stroke="#000" stroke-width="0.9" text-anchor="middle" textLength="5.6" lengthAdjust="spacingAndGlyphs" transform="translate(415.6 411) rotate(90)">0</text>
<text x="0" y="0" font-size="17.6" font-weight="bold" fill="#000" stroke="#000" stroke-width="0.9" text-anchor="middle" textLength="12.6" lengthAdjust="spacingAndGlyphs" transform="translate(416 454.1) rotate(90)">330</text>
<text x="0" y="0" font-size="17.6" font-weight="bold" fill="#000" stroke="#000" stroke-width="0.9" text-anchor="middle" textLength="8.3" lengthAdjust="spacingAndGlyphs" transform="translate(416 485.15) rotate(90)">30</text>
<path d="M446.0,317.7 L483.45,317.7 L483.45,496.2 L446.0,496.2" stroke="#000" stroke-width="1.5" fill="none" />
<line x1="446" y1="375.6" x2="483.45" y2="375.6" stroke="#000" stroke-width="1.5" />
<line x1="446" y1="446.2" x2="483.45" y2="446.2" stroke="#000" stroke-width="1.5" />
<line x1="446" y1="470.6" x2="483.45" y2="470.6" stroke="#000" stroke-width="1.5" />
<line x1="446" y1="482.1" x2="483.45" y2="482.1" stroke="#000" stroke-width="1.5" />
<line x1="446" y1="410.6" x2="483.45" y2="410.6" stroke="#000" stroke-width="1.4" />
<circle cx="464.55" cy="410.5" r="6.25" stroke="#000" stroke-width="1.3" fill="none"/>
<path d="M456.1,317.7 L460.1,312.9 L665,312.9 L678.6,327.5 L678.6,508.5" stroke="#000" stroke-width="1.5" fill="none" />
<path d="M483.45,350.6 L510.5,350.6 L510.5,471.3" stroke="#000" stroke-width="1.5" fill="none" />
<line x1="483.45" y1="447.5" x2="510.5" y2="447.5" stroke="#000" stroke-width="1.5" />
<line x1="483.45" y1="459.3" x2="510.5" y2="459.3" stroke="#000" stroke-width="1.5" />
<line x1="483.45" y1="471.3" x2="510.5" y2="471.3" stroke="#000" stroke-width="1.5" />
<path d="M483.45,471.3 L483.45,519.3 L506.4,519.3 L506.4,471.3" stroke="#000" stroke-width="1.5" fill="none" />
<rect x="457.3" y="497" width="25.9" height="15.7" rx="0" stroke="#000" stroke-width="1.2" fill="#fff"/>
<line x1="471.3" y1="497" x2="471.3" y2="512.7" stroke="#000" stroke-width="1.2" />
<line x1="471.3" y1="508.6" x2="483.2" y2="508.6" stroke="#000" stroke-width="1.2" />
<line x1="449" y1="497" x2="457.3" y2="505.3" stroke="#000" stroke-width="1.2" />
<rect x="441.2" y="512.7" width="47" height="19" rx="2.8" fill="#000"/>
<path d="M512.35,328.4 L612.85,328.4 A7.95,7.95 0 0 1 612.85,344.3 L512.35,344.3 A7.95,7.95 0 0 1 512.35,328.4 Z" stroke="#000" stroke-width="1.3" fill="none" />
<path d="M509.9,476.9 L612.35,476.9 A8.35,8.35 0 0 1 612.35,493.6 L509.9,493.6 Q506.6,493.6 506.6,490.3 L506.6,480.2 Q506.6,476.9 509.9,476.9 Z" stroke="#000" stroke-width="1.5" fill="none" />
<line x1="506.4" y1="508.3" x2="632.7" y2="508.3" stroke="#000" stroke-width="1.5" />
<line x1="542" y1="336.5" x2="582.2" y2="336.5" stroke="#111" stroke-width="0.95" />
<line x1="586.6" y1="336.5" x2="729.8" y2="336.5" stroke="#111" stroke-width="0.95" />
<line x1="562.5" y1="316.6" x2="562.5" y2="356" stroke="#111" stroke-width="0.95" />
<line x1="542.5" y1="485" x2="582" y2="485" stroke="#111" stroke-width="0.95" />
<line x1="587" y1="485" x2="730.6" y2="485" stroke="#111" stroke-width="0.95" />
<line x1="562.3" y1="465" x2="562.3" y2="504.6" stroke="#111" stroke-width="0.95" />
<line x1="617.5" y1="328.2" x2="707" y2="328.2" stroke="#111" stroke-width="0.95" />
<line x1="617.5" y1="344.3" x2="707" y2="344.3" stroke="#111" stroke-width="0.95" />
<path d="M542.2,443 L542.2,373.6 L510.5,373.6" stroke="#000" stroke-width="1.5" fill="none" />
<path d="M572.8,443 L572.8,373.6 L613.6,373.6 Q616,373.6 616,376 L616,445.4 Q616,447.8 613.6,447.8 L510.5,447.8" stroke="#000" stroke-width="1.5" fill="none" />
<rect x="519.7" y="378.2" width="22.5" height="64.8" rx="0" stroke="#000" stroke-width="1.3" fill="none"/>
<rect x="572.8" y="378.2" width="22.5" height="64.8" rx="0" stroke="#000" stroke-width="1.3" fill="none"/>
<line x1="519.7" y1="384.6" x2="595.3" y2="384.6" stroke="#000" stroke-width="1.5" />
<line x1="542.2" y1="378.2" x2="572.8" y2="378.2" stroke="#000" stroke-width="1.5" />
<line x1="542.2" y1="401.5" x2="572.8" y2="401.5" stroke="#000" stroke-width="1.5" />
<line x1="510.5" y1="410.5" x2="678.6" y2="410.5" stroke="#000" stroke-width="1.4" />
<line x1="572.8" y1="410.5" x2="588.2" y2="410.5" stroke="#e8505a" stroke-width="1.4" />
<line x1="588.2" y1="410.5" x2="593.5" y2="410.5" stroke="#fff" stroke-width="2" />
<circle cx="531.25" cy="427.6" r="13.9" stroke="#000" stroke-width="1.8" fill="#fff"/>
<circle cx="584.2" cy="427.6" r="13.9" stroke="#000" stroke-width="1.8" fill="#fff"/>
<path d="M632.7,508.5 L632.7,339.0 L678.6,339.0" stroke="#000" stroke-width="1.5" fill="none" />
<line x1="645.8" y1="339" x2="645.8" y2="508.5" stroke="#000" stroke-width="1.5" />
<line x1="645.8" y1="406" x2="678.6" y2="406" stroke="#000" stroke-width="1.5" />
<circle cx="662.4" cy="350.25" r="6.4" stroke="#000" stroke-width="1.2" fill="none"/>
<circle cx="662.4" cy="350.25" r="4.2" stroke="#000" stroke-width="1.2" fill="none"/>
<circle cx="662.4" cy="377.85" r="6.4" stroke="#000" stroke-width="1.2" fill="none"/>
<circle cx="662.4" cy="377.85" r="4.2" stroke="#000" stroke-width="1.2" fill="none"/>
<line x1="678.6" y1="410.5" x2="697.6" y2="410.5" stroke="#e8505a" stroke-width="1.4" />
<rect x="633.3" y="508.5" width="44.1" height="42.7" rx="0" stroke="#000" stroke-width="1.3" fill="none"/>
<line x1="670.4" y1="508.5" x2="670.4" y2="551.2" stroke="#000" stroke-width="1.2" />
<path d="M633.3,522.7 L627.6,522.7 L620.6,523.5 L618.9,522.8 L611.7,523.6 L609.6,522.8 L606.6,523.6 Q604.1,524.1 603.9,527.2 L603.9,532.1 Q604.1,535.2 606.6,535.7 L609.6,536.5 L611.7,535.8 L618.9,536.6 L620.6,535.8 L627.6,536.5 L633.3,536.5" stroke="#000" stroke-width="1.25" fill="#fff" />
<path d="M609.6,523 Q608,529.6 609.6,536.3" stroke="#000" stroke-width="1.15" fill="none" />
<path d="M611.7,523 Q610.1,529.6 611.7,536.3" stroke="#000" stroke-width="1.15" fill="none" />
<path d="M618.9,523 Q617.3,529.6 618.9,536.3" stroke="#000" stroke-width="1.15" fill="none" />
<path d="M620.6,523 Q619,529.6 620.6,536.3" stroke="#000" stroke-width="1.15" fill="none" />
<path d="M627.6,523 Q626,529.6 627.6,536.3" stroke="#000" stroke-width="1.15" fill="none" />
<line x1="353.1" y1="262" x2="353.1" y2="325" stroke="#111" stroke-width="0.95" />
<line x1="678.75" y1="262.2" x2="678.75" y2="326.6" stroke="#111" stroke-width="0.95" />
<line x1="353.1" y1="266.6" x2="678.75" y2="266.6" stroke="#111" stroke-width="0.95" />
<path d="M353.1,266.6 L369.9,264.35 L369.9,268.85 Z" fill="#000"/>
<path d="M678.75,266.6 L661.95,268.85 L661.95,264.35 Z" fill="#000"/>
<text x="544.65" y="264.9" font-size="13.48" text-anchor="middle" stroke="#000" stroke-width="0.15" textLength="18.31" lengthAdjust="spacingAndGlyphs">70</text>
<line x1="512.2" y1="286" x2="512.2" y2="323.7" stroke="#111" stroke-width="0.95" />
<line x1="612.4" y1="286" x2="612.4" y2="323.6" stroke="#111" stroke-width="0.95" />
<line x1="483.2" y1="291.1" x2="642.5" y2="291.1" stroke="#111" stroke-width="0.95" />
<path d="M512.2,291.1 L495.4,293.35 L495.4,288.85 Z" fill="#000"/>
<path d="M612.4,291.1 L629.2,288.85 L629.2,293.35 Z" fill="#000"/>
<text x="573.95" y="288.9" font-size="12.99" text-anchor="middle" stroke="#000" stroke-width="0.15" textLength="39.27" lengthAdjust="spacingAndGlyphs">21.50</text>
<line x1="702.15" y1="271" x2="702.15" y2="374" stroke="#111" stroke-width="0.95" />
<path d="M702.15,328.2 L699.9,311.4 L704.4,311.4 Z" fill="#000"/>
<path d="M702.15,344.3 L704.4,361.1 L699.9,361.1 Z" fill="#000"/>
<text x="0" y="0" font-size="13.9" text-anchor="middle" stroke="#000" stroke-width="0.15" textLength="31.85" lengthAdjust="spacingAndGlyphs" transform="translate(700.25 291) rotate(-90)">3.50</text>
<line x1="669" y1="312.9" x2="757.8" y2="312.9" stroke="#111" stroke-width="0.95" />
<line x1="752.9" y1="312.9" x2="752.9" y2="508.5" stroke="#111" stroke-width="0.95" />
<path d="M752.9,312.9 L755.15,329.7 L750.65,329.7 Z" fill="#000"/>
<path d="M752.9,508.5 L750.65,491.7 L755.15,491.7 Z" fill="#000"/>
<line x1="679" y1="508.5" x2="758.3" y2="508.5" stroke="#111" stroke-width="0.95" />
<text x="0" y="0" font-size="13.13" text-anchor="middle" stroke="#000" stroke-width="0.15" textLength="18.58" lengthAdjust="spacingAndGlyphs" transform="translate(751.2 422.3) rotate(-90)">42</text>
<line x1="725.2" y1="336.5" x2="725.2" y2="581" stroke="#111" stroke-width="0.95" />
<path d="M725.2,336.5 L727.45,353.3 L722.95,353.3 Z" fill="#000"/>
<path d="M725.2,485 L722.95,468.2 L727.45,468.2 Z" fill="#000"/>
<text x="0" y="0" font-size="13.48" text-anchor="middle" stroke="#000" stroke-width="0.15" textLength="17.81" lengthAdjust="spacingAndGlyphs" transform="translate(723.45 421.9) rotate(-90)">32</text>
<path d="M725.2,508.5 L722.95,491.7 L727.45,491.7 Z" fill="#000"/>
<path d="M725.2,551.3 L727.45,568.1 L722.95,568.1 Z" fill="#000"/>
<line x1="677.4" y1="551.3" x2="730.5" y2="551.3" stroke="#111" stroke-width="0.95" />
<text x="0" y="0" font-size="13.55" text-anchor="middle" stroke="#000" stroke-width="0.15" textLength="31.32" lengthAdjust="spacingAndGlyphs" transform="translate(723.8 528.15) rotate(-90)">9.20</text>
</svg></body></html>
